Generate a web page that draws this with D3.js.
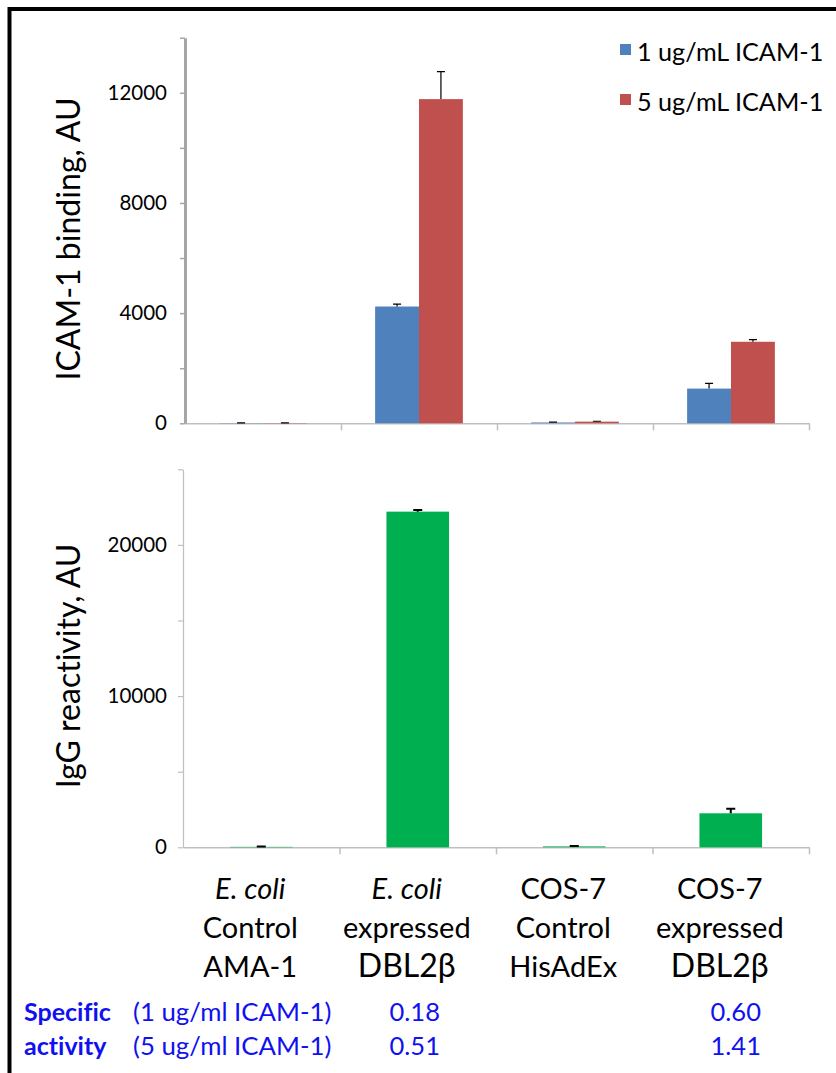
<!DOCTYPE html>
<html>
<head>
<meta charset="utf-8">
<script src="https://cdn.jsdelivr.net/npm/d3@7"></script>
<style>
  body { margin: 0; background: #fff; }
  text { font-family: Lato, "Open Sans", sans-serif; font-variant-ligatures: none; }
</style>
</head>
<body>
<div id="chart"></div>
<script>
// data
var categories = ["E. coli AMA-1", "E. coli DBL2b", "COS-7 HisAdEx", "COS-7 DBL2b"];
var labelLines = [
    ["E. coli", "Control", "AMA-1"],
    ["E. coli", "expressed", "DBL2\u03B2"],
    ["COS-7", "Control", "HisAdEx"],
    ["COS-7", "expressed", "DBL2\u03B2"]
];
var seriesNames = ["1 ug/mL ICAM-1", "5 ug/mL ICAM-1"];
var icam1 = [8, 4240, 30, 1260];
var icam1Err = [5, 90, 15, 190];
var icam5 = [10, 11770, 60, 2960];
var icam5Err = [5, 1000, 15, 80];
var igg = [30, 22200, 60, 2250];
var iggErr = [20, 100, 20, 300];
var topTicks = [0, 2000, 4000, 6000, 8000, 10000, 12000, 14000];
var bottomTicks = [0, 5000, 10000, 15000, 20000, 25000];
var activityRows = ["(1 ug/ml ICAM-1)", "(5 ug/ml ICAM-1)"];
var activityHead = ["Specific", "activity"];
var activity1 = ["", "0.18", "", "0.60"];
var activity5 = ["", "0.51", "", "1.41"];

var colors = ["#4F81BD", "#C0504D"];
var green = "#00B050";
var blueText = "#1010F0";

var W = 836, H = 1073;
var svg = d3.select("#chart")
    .append("svg")
    .attr("width", W)
    .attr("height", H);

svg.append("rect").attr("width", W).attr("height", H).attr("fill", "#fff");

// outer frame (cropped at right and bottom)
svg.append("path")
    .attr("d", "M9.5," + (H + 5) + "V9H" + (W + 5))
    .attr("fill", "none")
    .attr("stroke", "#000")
    .attr("stroke-width", 4);

// ---------- top chart ----------
var top0 = 423.3, top1 = 37.7;
var xTop = d3.scaleBand()
    .domain(categories)
    .range([185, 809])
    .paddingInner(0.4375)
    .paddingOuter(0.21875);
var xSub = d3.scaleBand()
    .domain(seriesNames)
    .range([0, xTop.bandwidth()]);
var yTop = d3.scaleLinear()
    .domain([0, 14000])
    .range([top0, top1]);

// x axis line with category dividers
var xDiv = d3.scaleLinear().domain([0, 4]).range([185, 809]);
var gxTop = svg.append("g")
    .attr("transform", "translate(0," + top0 + ")")
    .call(d3.axisBottom(xDiv).tickValues([1, 2, 3, 4]).tickSize(7).tickSizeOuter(0).tickFormat(""));
gxTop.select(".domain").attr("stroke", "#BFBFBF").attr("stroke-width", 1.5);
gxTop.selectAll(".tick line").attr("stroke", "#BFBFBF").attr("stroke-width", 1.5);

var gyTop = svg.append("g")
    .attr("transform", "translate(185,0)")
    .call(d3.axisLeft(yTop).tickValues(topTicks).tickSize(5).tickSizeOuter(0).tickPadding(13)
        .tickFormat(d => d % 4000 === 0 ? d : ""));
gyTop.select(".domain").attr("stroke", "#A6A6A6").attr("stroke-width", 3);
gyTop.selectAll(".tick line").attr("stroke", "#A6A6A6").attr("stroke-width", 1.5);
gyTop.selectAll(".tick text").attr("font-size", 20.5).attr("font-family", "Lato").attr("fill", "#000");

// bars
var topData = categories.map((c, i) => [
    {cat: c, s: seriesNames[0], v: icam1[i], e: icam1Err[i], col: colors[0]},
    {cat: c, s: seriesNames[1], v: icam5[i], e: icam5Err[i], col: colors[1]}
]).flat();

var gbars = svg.selectAll("g.tbar")
    .data(topData)
    .enter()
    .append("g");

gbars.append("rect")
    .attr("x", d => xTop(d.cat) + xSub(d.s))
    .attr("y", d => yTop(d.v))
    .attr("width", xSub.bandwidth())
    .attr("height", d => top0 - yTop(d.v))
    .attr("fill", d => d.col);

// error bars
gbars.append("path")
    .attr("d", d => {
        var cx = xTop(d.cat) + xSub(d.s) + xSub.bandwidth() / 2;
        var y0 = yTop(d.v), y1 = yTop(d.v + d.e);
        return "M" + cx + "," + y0 + "V" + y1 + "M" + (cx - 4) + "," + y1 + "H" + (cx + 4);
    })
    .attr("fill", "none")
    .attr("stroke", "#000")
    .attr("stroke-width", 1.2);

// y title
svg.append("text")
    .attr("transform", "translate(80,239) rotate(-90)")
    .attr("text-anchor", "middle")
    .attr("font-size", 32)
    .text("ICAM-1 binding, AU");

// legend
var leg = svg.selectAll("g.leg")
    .data(seriesNames)
    .enter()
    .append("g")
    .attr("transform", (d, i) => "translate(620," + (44 + i * 50) + ")");
leg.append("rect")
    .attr("width", 11)
    .attr("height", 11)
    .attr("fill", (d, i) => colors[i]);
leg.append("text")
    .attr("x", 17)
    .attr("y", 16.5)
    .attr("font-size", 25.2)
    .text(d => d);

// ---------- bottom chart ----------
var bot0 = 847.3, bot1 = 469.3;
var xBot = d3.scaleBand()
    .domain(categories)
    .range([183, 809])
    .paddingInner(0.6)
    .paddingOuter(0.3);
var yBot = d3.scaleLinear()
    .domain([0, 25000])
    .range([bot0, bot1]);

var xDiv2 = d3.scaleLinear().domain([0, 4]).range([183, 809]);
var gxBot = svg.append("g")
    .attr("transform", "translate(0," + bot0 + ")")
    .call(d3.axisBottom(xDiv2).tickValues([1, 2, 3, 4]).tickSize(7).tickSizeOuter(0).tickFormat(""));
gxBot.select(".domain").attr("stroke", "#BFBFBF").attr("stroke-width", 1.5);
gxBot.selectAll(".tick line").attr("stroke", "#BFBFBF").attr("stroke-width", 1.5);

var gyBot = svg.append("g")
    .attr("transform", "translate(183,0)")
    .call(d3.axisLeft(yBot).tickValues(bottomTicks).tickSize(5).tickSizeOuter(0).tickPadding(11)
        .tickFormat(d => d % 10000 === 0 ? d : ""));
gyBot.select(".domain").attr("stroke", "#BFBFBF").attr("stroke-width", 1.2);
gyBot.selectAll(".tick line").attr("stroke", "#BFBFBF").attr("stroke-width", 1.2);
gyBot.selectAll(".tick text").attr("font-size", 20.5).attr("font-family", "Lato").attr("fill", "#000");

var gg = svg.selectAll("g.gbar")
    .data(categories)
    .enter()
    .append("g");

gg.append("rect")
    .attr("x", d => xBot(d))
    .attr("y", (d, i) => yBot(igg[i]))
    .attr("width", xBot.bandwidth())
    .attr("height", (d, i) => bot0 - yBot(igg[i]))
    .attr("fill", green);

gg.append("path")
    .attr("d", (d, i) => {
        var cx = xBot(d) + xBot.bandwidth() / 2;
        var y0 = yBot(igg[i]), y1 = yBot(igg[i] + iggErr[i]);
        return "M" + cx + "," + y0 + "V" + y1 + "M" + (cx - 4.5) + "," + y1 + "H" + (cx + 4.5);
    })
    .attr("fill", "none")
    .attr("stroke", "#000")
    .attr("stroke-width", 2);

svg.append("text")
    .attr("transform", "translate(80,666) rotate(-90)")
    .attr("text-anchor", "middle")
    .attr("font-size", 32)
    .text("IgG reactivity, AU");

// category labels
var lab = svg.selectAll("g.lab")
    .data(categories)
    .enter()
    .append("g")
    .attr("transform", d => "translate(" + (xBot(d) + xBot.bandwidth() / 2 - 11) + ",0)");

lab.selectAll("text")
    .data((d, i) => labelLines[i])
    .enter()
    .append("text")
    .attr("text-anchor", "middle")
    .attr("y", (d, j) => bot0 + 52 + j * 39)
    .attr("font-size", d => d.indexOf("\u03B2") >= 0 ? 32 : 29)
    .attr("font-family", d => d.indexOf("\u03B2") >= 0 ? "Liberation Sans, Arial, sans-serif" : "Lato, sans-serif")
    .attr("font-style", d => d === "E. coli" ? "italic" : "normal")
    .text(d => d);

// specific activity rows
var rowY = [1021, 1055];
svg.selectAll("text.head")
    .data(activityHead)
    .enter()
    .append("text")
    .attr("x", 24)
    .attr("y", (d, i) => rowY[i])
    .attr("font-size", 25)
    .attr("font-weight", "bold")
    .attr("fill", blueText)
    .text(d => d);

svg.selectAll("text.rowlab")
    .data(activityRows)
    .enter()
    .append("text")
    .attr("x", 133)
    .attr("y", (d, i) => rowY[i])
    .attr("font-size", 25.8)
    .attr("fill", blueText)
    .text(d => d);

[activity1, activity5].forEach((row, r) => {
    svg.selectAll("text.act" + r)
        .data(row)
        .enter()
        .append("text")
        .attr("x", (d, i) => xBot(categories[i]) + xBot.bandwidth() / 2 + (i === 3 ? 5 : -3))
        .attr("y", rowY[r])
        .attr("text-anchor", "middle")
        .attr("font-size", 25.5)
        .attr("fill", blueText)
        .text(d => d);
});
</script>
</body>
</html>
